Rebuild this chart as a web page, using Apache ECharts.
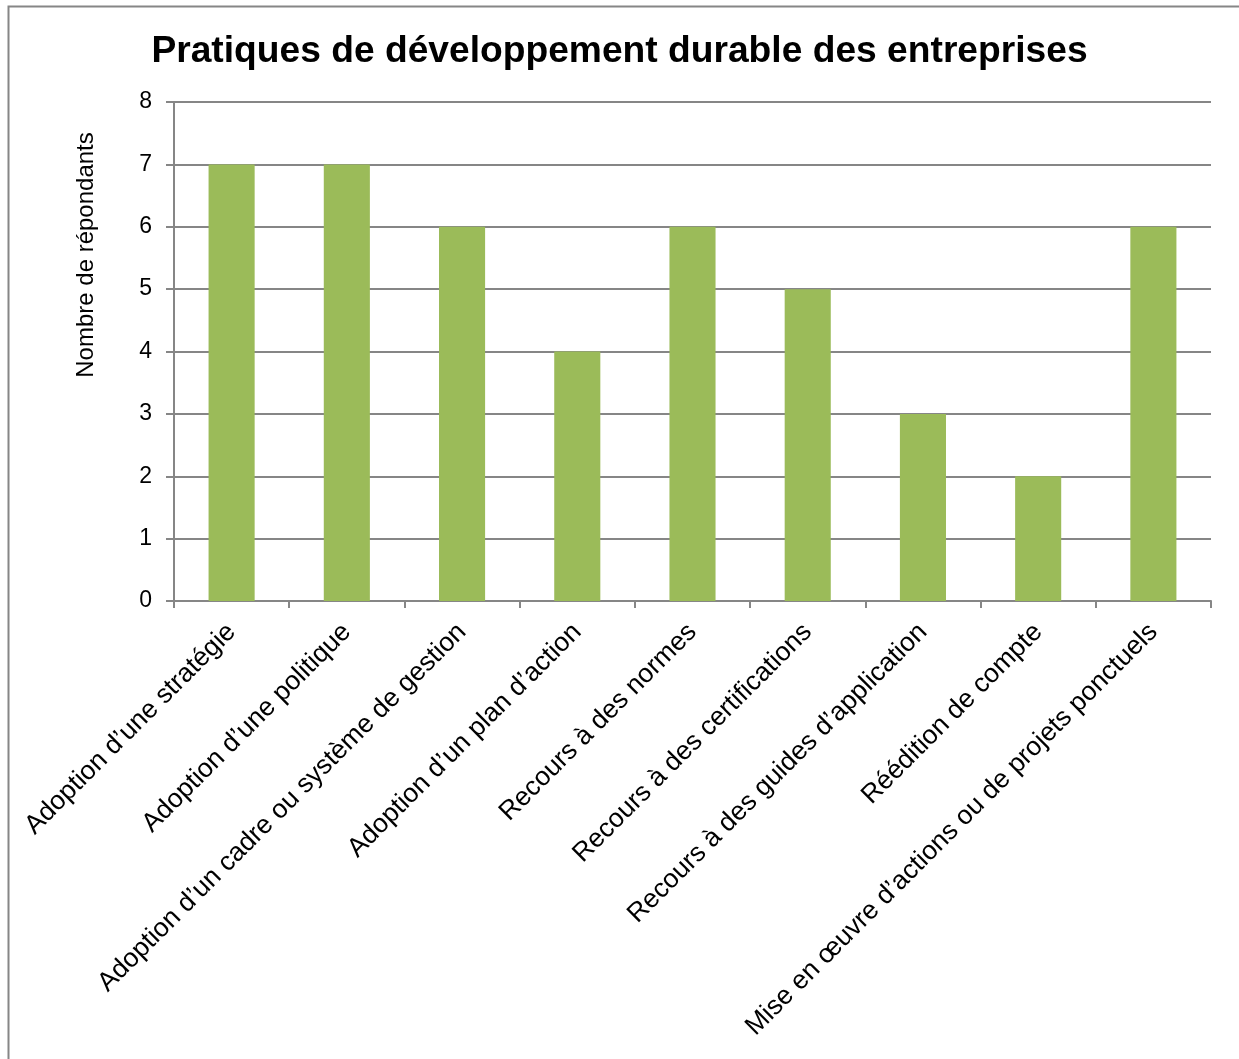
<!DOCTYPE html>
<html>
<head>
<meta charset="utf-8">
<script src="https://cdn.jsdelivr.net/npm/echarts@6/dist/echarts.min.js"></script>
<style>
  html, body { margin: 0; padding: 0; background: #fff; }
  #chart { width: 1239px; height: 1059px; }
</style>
</head>
<body>
<div id="chart"></div>
<script>
const categories = [
  'Adoption d’une stratégie',
  'Adoption d’une politique',
  'Adoption d’un cadre ou système de gestion',
  'Adoption d’un plan d’action',
  'Recours à des normes',
  'Recours à des certifications',
  'Recours à des guides d’application',
  'Réédition de compte',
  'Mise en œuvre d’actions ou de projets ponctuels'
]
const respondents = [7, 7, 6, 4, 6, 5, 3, 2, 6]
const yTicks = [0, 1, 2, 3, 4, 5, 6, 7, 8]

const font = 'Liberation Sans, Arial, sans-serif'
const grey = '#868686'

let chart = echarts.init(document.getElementById('chart'))
chart.setOption({
  animation: false,
  backgroundColor: '#fff',
  title: {
    text: 'Pratiques de développement durable des entreprises',
    left: 'center',
    top: 28,
    textStyle: { fontFamily: font, fontSize: 37.2, fontWeight: 'bold', color: '#000' }
  },
  graphic: [
    {
      type: 'rect',
      shape: { x: 8.5, y: 6.5, width: 1260, height: 1080 },
      style: { fill: 'none', stroke: grey, lineWidth: 2 },
      silent: true
    },
    {
      type: 'text',
      x: 86,
      y: 255,
      rotation: Math.PI / 2,
      style: {
        text: 'Nombre de répondants',
        fontFamily: font,
        fontSize: 24,
        fill: '#000',
        align: 'center',
        verticalAlign: 'middle'
      }
    }
  ],
  grid: { left: 174, right: 28, top: 102, bottom: 458, containLabel: false },
  xAxis: {
    type: 'category',
    data: categories,
    axisLine: { lineStyle: { color: grey, width: 2 } },
    axisTick: { show: true, length: 7, lineStyle: { color: grey, width: 2 }, alignWithLabel: false },
    axisLabel: {
      interval: 0,
      rotate: 45,
      margin: 27,
      fontFamily: font,
      fontSize: 26.5,
      color: '#000'
    }
  },
  yAxis: {
    type: 'value',
    min: yTicks[0],
    max: yTicks[yTicks.length - 1],
    interval: 1,
    axisLine: { show: true, lineStyle: { color: grey, width: 2 } },
    axisTick: { show: true, length: 8, lineStyle: { color: grey, width: 2 } },
    splitLine: { lineStyle: { color: grey, width: 2 } },
    axisLabel: { margin: 22, fontFamily: font, fontSize: 23, color: '#000' }
  },
  series: [{
    type: 'bar',
    data: respondents,
    barWidth: '40%',
    itemStyle: { color: '#9BBB59' }
  }]
})
</script>
</body>
</html>
